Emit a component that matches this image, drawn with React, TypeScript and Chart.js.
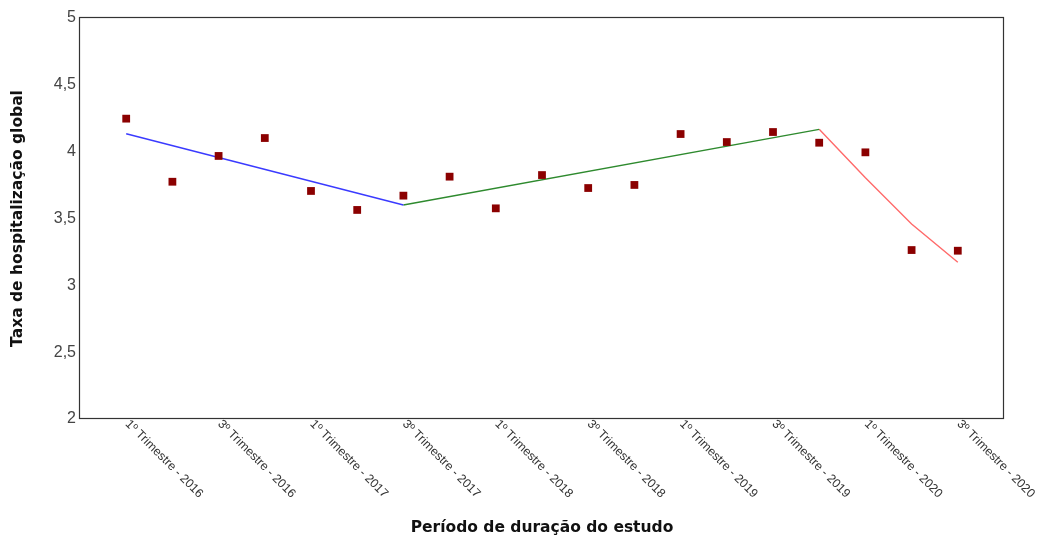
import React, { useEffect, useRef } from "react";
import { Chart, registerables } from "chart.js";

Chart.register(...registerables);

// Quarter index (0 = 1º Trimestre 2016 … 18 = 3º Trimestre 2020)
const quarterIndex = [0, 1, 2, 3, 4, 5, 6, 7, 8, 9, 10, 11, 12, 13, 14, 15, 16, 17, 18];
const observedRate = [
  4.247, 3.775, 3.968, 4.102, 3.706, 3.564, 3.671, 3.813, 3.576, 3.825,
  3.728, 3.751, 4.132, 4.072, 4.147, 4.067, 3.995, 3.264, 3.259,
];

// Segmented trend lines (index, value)
const blueTrendX = [0, 6];
const blueTrendY = [4.134, 3.601];
const greenTrendX = [6, 15];
const greenTrendY = [3.601, 4.167];
const redTrendX = [15, 16, 17, 18];
const redTrendY = [4.167, 3.805, 3.459, 3.173];

const xTickIndex = [0, 2, 4, 6, 8, 10, 12, 14, 16, 18];
const xTickLabels = [
  "1º Trimestre - 2016",
  "3º Trimestre - 2016",
  "1º Trimestre - 2017",
  "3º Trimestre - 2017",
  "1º Trimestre - 2018",
  "3º Trimestre - 2018",
  "1º Trimestre - 2019",
  "3º Trimestre - 2019",
  "1º Trimestre - 2020",
  "3º Trimestre - 2020",
];

const toXY = (xs: number[], ys: number[]) => xs.map((x, i) => ({ x, y: ys[i] }));

const boxAndLabels = {
  id: "boxAndLabels",
  afterDraw(chart: any) {
    const { ctx, chartArea } = chart;
    const xs = chart.scales.x;
    ctx.save();
    ctx.strokeStyle = "#333";
    ctx.lineWidth = 1.2;
    ctx.strokeRect(
      Math.round(chartArea.left) - 0.5,
      Math.round(chartArea.top) - 0.5,
      Math.round(chartArea.right - chartArea.left),
      Math.round(chartArea.bottom - chartArea.top)
    );
    ctx.fillStyle = "#333";
    ctx.font = "12.3px 'Liberation Sans', Arial, sans-serif";
    ctx.textAlign = "left";
    ctx.textBaseline = "middle";
    xTickIndex.forEach((idx, i) => {
      const px = xs.getPixelForValue(idx);
      ctx.save();
      ctx.translate(px + 1, chartArea.bottom + 3);
      ctx.rotate(Math.PI / 4);
      ctx.fillText(xTickLabels[i], 0, 0);
      ctx.restore();
    });
    ctx.restore();
  },
};

export default function App() {
  const ref = useRef<HTMLCanvasElement | null>(null);
  useEffect(() => {
    document.body.style.margin = "0";
    const chart = new Chart(ref.current as HTMLCanvasElement, {
      type: "scatter",
      data: {
        datasets: [
          {
            label: "Taxa",
            data: toXY(quarterIndex, observedRate),
            pointStyle: "rect",
            pointRadius: 5.5,
            pointBorderWidth: 0,
            backgroundColor: "#8b0000",
            borderColor: "#8b0000",
            showLine: false,
          },
          {
            label: "Tendência 1",
            data: toXY(blueTrendX, blueTrendY),
            showLine: true,
            pointRadius: 0,
            borderColor: "#3a3aff",
            borderWidth: 1.4,
          },
          {
            label: "Tendência 2",
            data: toXY(greenTrendX, greenTrendY),
            showLine: true,
            pointRadius: 0,
            borderColor: "#2e8a2e",
            borderWidth: 1.4,
          },
          {
            label: "Tendência 3",
            data: toXY(redTrendX, redTrendY),
            showLine: true,
            pointRadius: 0,
            borderColor: "#ff6a6a",
            borderWidth: 1.4,
          },
        ],
      },
      options: {
        animation: false,
        responsive: false,
        layout: { padding: { top: 18, right: 38, left: 0, bottom: 0 } },
        plugins: { legend: { display: false }, tooltip: { enabled: false } },
        scales: {
          x: {
            type: "linear",
            min: -1,
            max: 19,
            grid: { display: false, drawTicks: false },
            border: { display: false },
            ticks: { display: false },
            title: {
              display: true,
              text: "Período de duração do estudo",
              color: "#111",
              font: { family: "'DejaVu Sans', Verdana, sans-serif", size: 15.5, weight: "bold" },
              padding: { top: 0, bottom: 3 },
            },
            afterFit: (scale: any) => {
              scale.height = 121;
            },
          },
          y: {
            min: 2,
            max: 5,
            grid: { display: false, drawTicks: false },
            border: { display: false },
            ticks: {
              stepSize: 0.5,
              padding: 4,
              color: "#444",
              font: { family: "'Liberation Sans', Arial, sans-serif", size: 16 },
              callback: (v: any) => String(v).replace(".", ","),
            },
            title: {
              display: true,
              text: "Taxa de hospitalização global",
              color: "#111",
              font: { family: "'DejaVu Sans', Verdana, sans-serif", size: 15.5, weight: "bold" },
              padding: { top: 9, bottom: 0 },
            },
            afterFit: (scale: any) => {
              scale.width = 80;
            },
          },
        },
      },
      plugins: [boxAndLabels],
    });
    return () => chart.destroy();
  }, []);
  return (
    <div style={{ position: "absolute", left: 0, top: 0, width: 1042, height: 540 }}>
      <canvas ref={ref} width={1042} height={540} />
    </div>
  );
}
